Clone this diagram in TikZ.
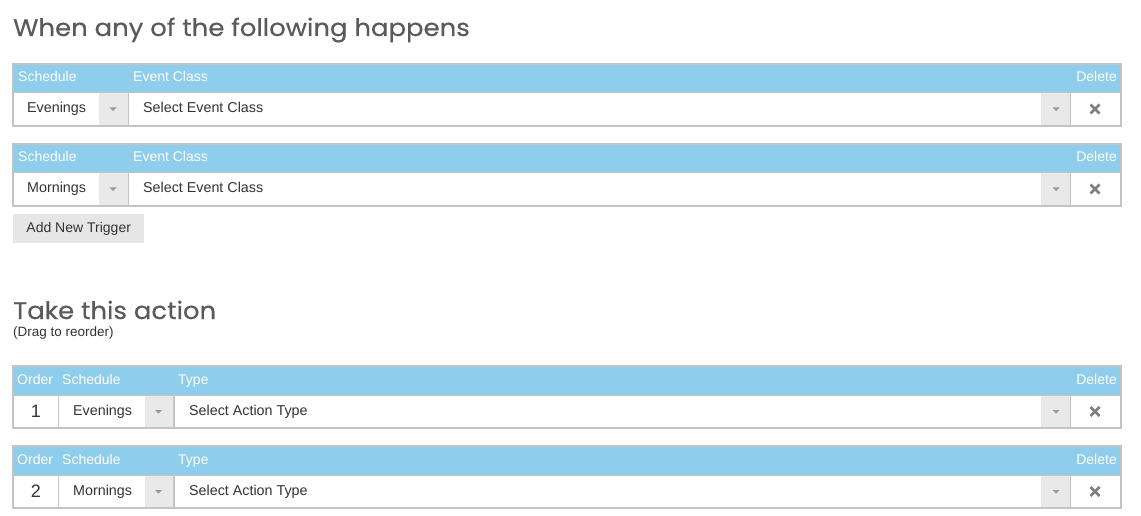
\documentclass[tikz,border=0pt]{standalone}
\usepackage{fontspec}
\setmainfont{Liberation Sans}
\newfontfamily\titlefont[FakeStretch=1.08,FakeBold=0.4]{Poppins}
\usetikzlibrary{positioning}

\definecolor{headblue}{HTML}{8ECDEB}
\definecolor{rowline}{HTML}{C4C4C4}
\definecolor{dropgray}{HTML}{E9E9E9}
\definecolor{btngray}{HTML}{E6E6E6}
\definecolor{txtgray}{HTML}{333333}
\definecolor{titlegray}{HTML}{5A5A5A}
\definecolor{markgray}{HTML}{7F7F7F}

\tikzset{
  pagetitle/.style={text=titlegray, font=\titlefont\fontsize{24}{27}\selectfont, inner sep=0pt, anchor=base west},
  headtext/.style={text=white, font=\fontsize{14}{16}\selectfont, inner sep=0pt, text height=10pt, text depth=3pt, anchor=west},
  celltext/.style={text=txtgray, font=\fontsize{14.3}{16}\selectfont, inner sep=0pt, text height=10pt, text depth=3pt, anchor=west},
  ordertext/.style={text=txtgray, font=\fontsize{18}{20}\selectfont, inner sep=0pt},
  btnbox/.style={fill=btngray, text=txtgray, font=\fontsize{14}{16}\selectfont, minimum width=131pt, minimum height=29pt, inner sep=0pt, anchor=north west},
  droparrow/.style={fill=markgray!80},
  delmark/.style={draw=markgray, line width=2.6pt},
}

\begin{document}
\begin{tikzpicture}[x=1pt, y=-1pt]
\useasboundingbox (0,0) rectangle (1141,516);

\node[pagetitle] (trigtitle) at (13,36) {When any of the following happens};

% trigger rows
\foreach \rowy/\sched [count=\n] in {64/Evenings, 144/Mornings}
{
\begin{scope}[shift={(0,\rowy)}]
  \fill[headblue] (13,0) rectangle (1121,28);
  \fill[white] (13,28) rectangle (1121,62);
  \fill[dropgray] (99,28) rectangle (128,62);
  \fill[dropgray] (1041,28) rectangle (1070,62);
  \draw[rowline, line width=1.5pt] (13,0) rectangle (1121,62);
  \draw[rowline] (13,28) -- (1121,28);
  \draw[rowline, line width=1.5pt] (128.5,28) -- (128.5,62);
  \draw[rowline, line width=1.5pt] (1070.5,28) -- (1070.5,62);
  \node[headtext] (trig\n-schedhead) at (18,14) {Schedule};
  \node[headtext] (trig\n-classhead) at (133,14) {Event Class};
  \node[headtext, anchor=east] (trig\n-delhead) at (1117,14) {Delete};
  \node[celltext] (trig\n-sched) at (27,45) {\sched};
  \node[celltext] (trig\n-class) at (143,45) {Select Event Class};
  \fill[droparrow] (109.5,43.5) -- (116.5,43.5) -- (113,47) -- cycle;
  \fill[droparrow] (1052.5,43.5) -- (1059.5,43.5) -- (1056,47) -- cycle;
  \draw[delmark] (1090.5,40.5) -- (1099.5,49.5) (1090.5,49.5) -- (1099.5,40.5);
\end{scope}
}

\node[btnbox] (addtrigger) at (13,214) {Add New Trigger};

\node[pagetitle] (acttitle) at (13,319) {Take this action};
\node[text=txtgray, font=\fontsize{13.5}{15}\selectfont, inner sep=0pt, anchor=north west] (dragnote) at (13,327) {(Drag to reorder)};

% action rows
\foreach \rowy/\sched [count=\n] in {366/Evenings, 446/Mornings}
{
\begin{scope}[shift={(0,\rowy)}]
  \fill[headblue] (13,0) rectangle (1121,29);
  \fill[white] (13,29) rectangle (1121,62);
  \fill[dropgray] (145,29) rectangle (173,62);
  \fill[dropgray] (1041,29) rectangle (1070,62);
  \draw[rowline, line width=1.5pt] (13,0) rectangle (1121,62);
  \draw[rowline] (13,29) -- (1121,29);
  \draw[rowline, line width=1.5pt] (58.5,29) -- (58.5,62);
  \draw[rowline, line width=1.5pt] (174,29) -- (174,62);
  \draw[rowline, line width=1.5pt] (1070.5,29) -- (1070.5,62);
  \node[headtext] (act\n-orderhead) at (17,14.5) {Order};
  \node[headtext] (act\n-schedhead) at (62,14.5) {Schedule};
  \node[headtext] (act\n-typehead) at (178,14.5) {Type};
  \node[headtext, anchor=east] (act\n-delhead) at (1117,14.5) {Delete};
  \node[ordertext] (act\n-order) at (36,45.5) {\n};
  \node[celltext] (act\n-sched) at (73,45.5) {\sched};
  \node[celltext] (act\n-type) at (189,45.5) {Select Action Type};
  \fill[droparrow] (155,44) -- (162,44) -- (158.5,47.5) -- cycle;
  \fill[droparrow] (1052.5,44) -- (1059.5,44) -- (1056,47.5) -- cycle;
  \draw[delmark] (1090.5,41) -- (1099.5,50) (1090.5,50) -- (1099.5,41);
\end{scope}
}
\end{tikzpicture}
\end{document}
